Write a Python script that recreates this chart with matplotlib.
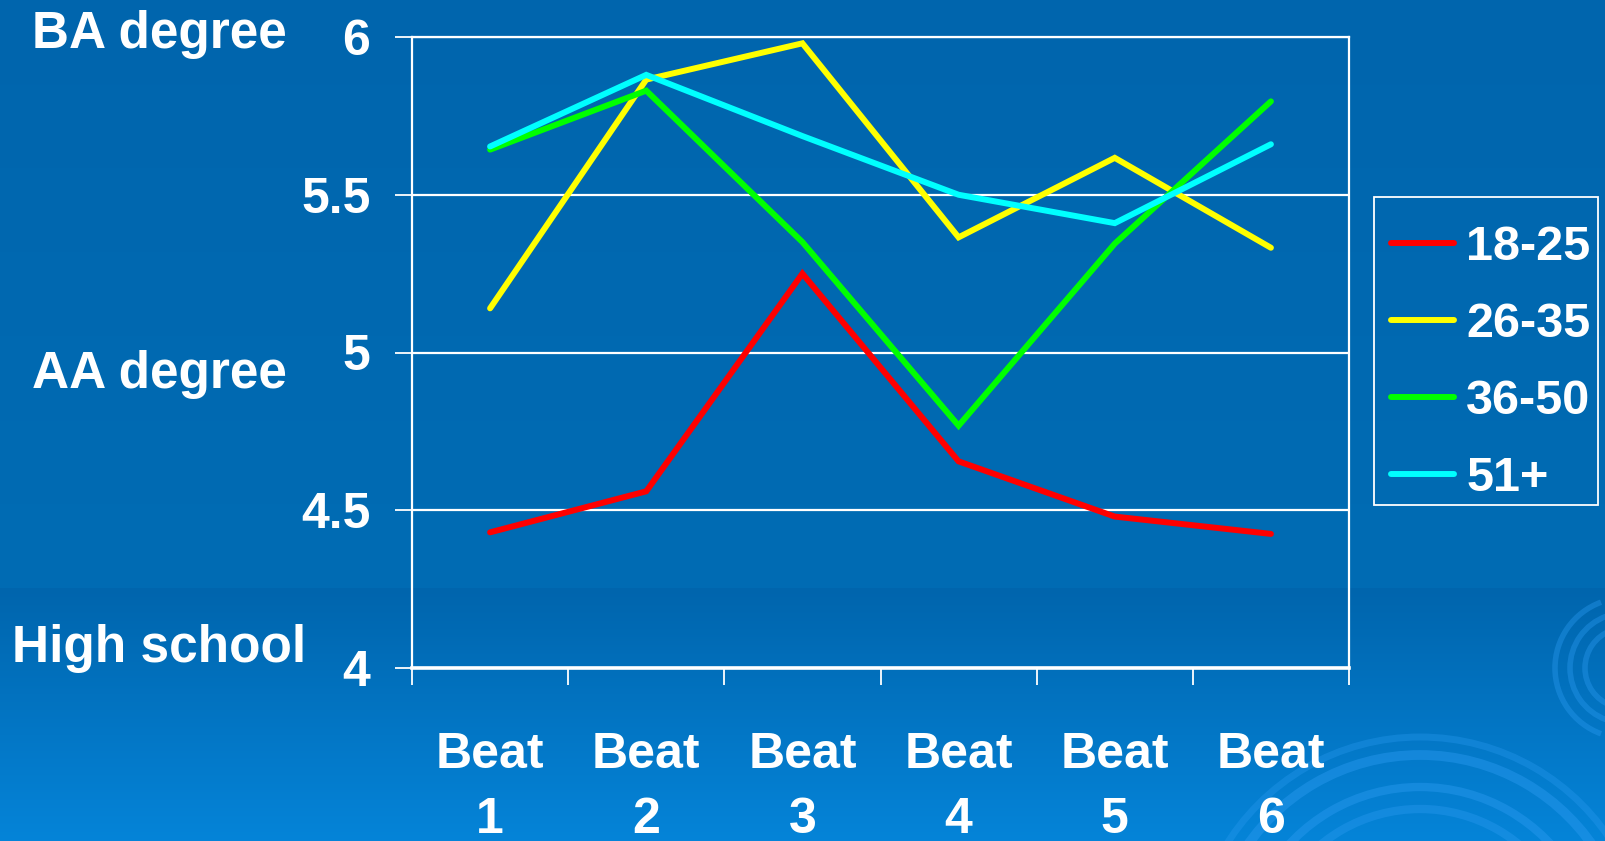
"""Education level by beat and age group, on a blue slide-style background."""

import numpy as np
import matplotlib.pyplot as plt
from matplotlib.patches import Arc, Rectangle
from matplotlib.colors import to_rgb

plt.rcParams["font.family"] = ["Liberation Sans", "DejaVu Sans"]
plt.rcParams["font.weight"] = "bold"

BEATS = ["Beat\n1", "Beat\n2", "Beat\n3", "Beat\n4", "Beat\n5", "Beat\n6"]
AGE_18_25 = [4.43, 4.56, 5.25, 4.655, 4.48, 4.425]
AGE_26_35 = [5.14, 5.865, 5.98, 5.365, 5.617, 5.332]
AGE_36_50 = [5.643, 5.83, 5.35, 4.768, 5.345, 5.796]
AGE_51_UP = [5.653, 5.88, 5.686, 5.50, 5.41, 5.66]
SERIES = [
    ("18-25", AGE_18_25, "#FF0000"),
    ("26-35", AGE_26_35, "#FFFF00"),
    ("36-50", AGE_36_50, "#00FF00"),
    ("51+", AGE_51_UP, "#00FFFF"),
]
Y_TICKS = [4, 4.5, 5, 5.5, 6]
Y_TICK_LABELS = ["4", "4.5", "5", "5.5", "6"]
LEVELS = ["BA degree", "AA degree", "High school"]

W, H = 1605, 841


def main() -> None:
    fig = plt.figure(figsize=(W / 100, H / 100), dpi=100)

    # background: vertical gradient + faint swirls
    bg = fig.add_axes([0, 0, 1, 1], zorder=-1)
    t = np.linspace(0, 1, H)[:, None]
    top, mid, bot = (np.array(to_rgb(c)) for c in ("#0065AD", "#006CB4", "#0584D8"))
    ramp = np.where(t < 0.7, t / 0.7, 0)[..., None] * (mid - top) + top
    low = np.clip((t - 0.7) / 0.3, 0, 1)[..., None]
    grad = ramp * (1 - low) + bot * low
    grad = np.repeat(grad, 2, axis=1)
    bg.imshow(grad, extent=(0, W, H, 0), aspect="auto")
    for r, lw, a in [(228, 5, 0.35), (210, 7, 0.45), (178, 6, 0.45), (156, 6, 0.4), (120, 5, 0.3)]:
        bg.add_patch(Arc((1420, 965), 2 * r, 2 * r, theta1=150, theta2=30 + 360,
                         color="#2a9af0", lw=lw, alpha=a))
    for r in (40, 55, 70):
        bg.add_patch(Arc((1625, 668), 2 * r, 2 * r, theta1=110, theta2=250,
                         color="#2a9af0", lw=4, alpha=0.4))
    bg.add_patch(Arc((660, 960), 260, 260, theta1=60, theta2=120, color="#2a9af0", lw=4, alpha=0.4))
    # legend frame (Excel-style box, drawn separately so the padding can be uneven)
    bg.add_patch(Rectangle((1374, 197), 1598 - 1374, 505 - 197, fill=False,
                           edgecolor="white", lw=1.3))
    bg.set_xlim(0, W)
    bg.set_ylim(H, 0)
    bg.axis("off")

    ax = fig.add_axes([412 / W, 1 - 668 / H, (1349 - 412) / W, (668 - 37) / H])
    ax.patch.set_alpha(0)

    x = np.arange(len(BEATS))
    for name, vals, col in SERIES:
        ax.plot(x, vals, color=col, lw=4.3, label=name, solid_capstyle="round",
                solid_joinstyle="miter")

    ax.set_xlim(-0.5, len(BEATS) - 0.5)
    ax.set_ylim(4, 6)
    ax.set_yticks(Y_TICKS, Y_TICK_LABELS)
    ax.set_xticks(np.arange(-0.5, len(BEATS), 1))
    ax.set_xticklabels([])
    ax.set_xticks(x, BEATS, minor=True)
    ax.tick_params(axis="x", which="major", length=12, width=1.3, color="white", direction="out")
    ax.tick_params(axis="x", which="minor", length=0, pad=46, labelsize=36, labelcolor="white")
    ax.tick_params(axis="y", length=12, width=1.3, color="white", pad=18,
                   labelsize=36, labelcolor="white")
    for lab in ax.get_xticklabels(minor=True):
        lab.set_linespacing(1.54)
        lab.set_fontweight("bold")
    for lab in ax.get_yticklabels():
        lab.set_fontweight("bold")

    ax.grid(True, axis="y", color="white", lw=1.6)
    ax.set_axisbelow(True)
    for side, lw in [("left", 1.6), ("right", 1.6), ("top", 1.6), ("bottom", 2.6)]:
        ax.spines[side].set_color("white")
        ax.spines[side].set_linewidth(lw)

    # education level labels beside the axis
    for label, yb in zip(LEVELS, [48, 388, 662]):
        fig.text(159 / W, 1 - yb / H, label, ha="center", va="baseline",
                 fontsize=37, color="white", fontweight="bold")

    leg = ax.legend(loc="upper left", bbox_to_anchor=(1374 / W, 1 - 208 / H),
                    bbox_transform=fig.transFigure, fontsize=35, frameon=False,
                    handlelength=1.3, handletextpad=0.25,
                    labelspacing=0.656, borderpad=0.35, borderaxespad=0)
    for txt in leg.get_texts():
        txt.set_color("white")
        txt.set_fontweight("bold")

    fig.savefig("out.png", dpi=100)


if __name__ == "__main__":
    main()
